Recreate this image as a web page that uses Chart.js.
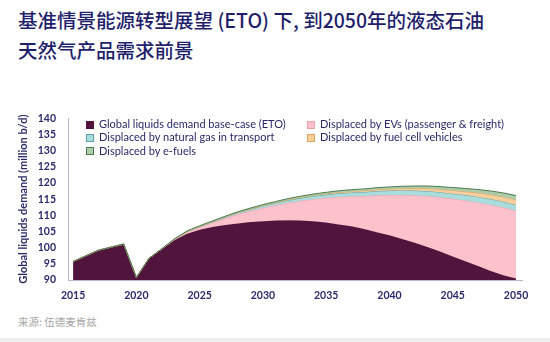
<!DOCTYPE html>
<html>
<head>
<meta charset="utf-8">
<script src="https://cdn.jsdelivr.net/npm/chart.js@4"></script>
<style>
  html, body { margin: 0; padding: 0; background: #fff; }
  body { width: 550px; height: 342px; position: relative; overflow: hidden; }
  .title {
    position: absolute; left: 18px; top: 5px;
    font-family: "Noto Sans CJK SC", sans-serif; font-weight: 500;
    font-size: 19.5px; line-height: 30px; color: #1f1f6c;
  }
  .wrap { position: absolute; left: 0; top: 100px; width: 550px; height: 212px; }
  .legend {
    position: absolute; left: 86px; top: 117px;
    display: grid; grid-template-columns: 221px auto; row-gap: 0;
    font-family: Lato, sans-serif; font-size: 11px; color: #2a2a6a;
  }
  .legend div { height: 13.3px; line-height: 13.3px; white-space: nowrap; }
  .legend span {
    display: inline-block; width: 6px; height: 6px; margin-right: 5px;
    border: 1px solid; vertical-align: -0.5px;
  }
  .source {
    position: absolute; left: 18px; top: 314px;
    font-family: "Noto Sans CJK SC", sans-serif; font-size: 10.5px; color: #a6a6a6;
  }
  .foot { position: absolute; left: 0; top: 338px; width: 550px; height: 4px; background: #eeeef0; }
</style>
</head>
<body>
<div class="title">基准情景能源转型展望 (ETO) 下, 到2050年的液态石油<br>天然气产品需求前景</div>
<div class="wrap"><canvas id="demand"></canvas></div>
<div class="legend" id="legend"></div>
<div class="source">来源: 伍德麦肯兹</div>
<div class="foot"></div>
<script>
const years = [2015, 2016, 2017, 2018, 2019, 2020, 2021, 2022, 2023, 2024, 2025, 2026,
  2027, 2028, 2029, 2030, 2031, 2032, 2033, 2034, 2035, 2036, 2037, 2038, 2039, 2040,
  2041, 2042, 2043, 2044, 2045, 2046, 2047, 2048, 2049, 2050];
const tickYears = [2015, 2020, 2025, 2030, 2035, 2040, 2045, 2050];

// million b/d
const baseCase = [95.7, 97.45, 99.2, 100.15, 101.1, 90.8, 96.7, 99.5, 102.3, 104.3, 105.5, 106.4,
  107.0, 107.5, 107.9, 108.2, 108.4, 108.5, 108.4, 108.2, 107.8, 107.2, 106.6, 105.8, 104.8, 103.8,
  102.7, 101.5, 100.2, 98.8, 97.3, 95.8, 94.3, 92.8, 91.5, 90.5];
const evs = [0, 0, 0, 0, 0, 0, 0, 0.1, 0.2, 0.5, 0.8, 1.3,
  2.0, 2.8, 3.4, 4.1, 4.7, 5.4, 6.1, 6.8, 7.6, 8.5, 9.3, 10.2, 11.4, 12.5,
  13.6, 14.7, 15.8, 16.8, 17.8, 18.8, 19.7, 20.5, 20.9, 20.9];
const naturalGas = [0, 0, 0, 0, 0, 0, 0, 0, 0.1, 0.2, 0.25, 0.3,
  0.4, 0.45, 0.55, 0.6, 0.7, 0.75, 0.85, 0.95, 1.0, 1.1, 1.15, 1.2, 1.3, 1.35,
  1.4, 1.45, 1.5, 1.55, 1.6, 1.65, 1.7, 1.75, 1.8, 1.8];
const fuelCell = [0, 0, 0, 0, 0, 0, 0, 0, 0, 0, 0.02, 0.03,
  0.04, 0.06, 0.08, 0.1, 0.12, 0.15, 0.18, 0.21, 0.25, 0.3, 0.35, 0.4, 0.45, 0.5,
  0.6, 0.7, 0.8, 0.9, 1.0, 1.1, 1.25, 1.35, 1.5, 1.6];
const eFuels = [0, 0, 0, 0, 0, 0, 0, 0.05, 0.1, 0.15, 0.2, 0.22,
  0.25, 0.27, 0.3, 0.32, 0.35, 0.38, 0.4, 0.43, 0.46, 0.5, 0.53, 0.56, 0.6, 0.63,
  0.67, 0.72, 0.77, 0.82, 0.88, 0.95, 1.03, 1.12, 1.22, 1.3];

const series = [
  { label: 'Global liquids demand base-case (ETO)', values: baseCase, fill: '#51153d', line: '#51153d' },
  { label: 'Displaced by EVs (passenger & freight)', values: evs, fill: '#fcc2cb', line: '#ee9fae' },
  { label: 'Displaced by natural gas in transport', values: naturalGas, fill: '#a9dcdc', line: '#5c9fa8' },
  { label: 'Displaced by fuel cell vehicles', values: fuelCell, fill: '#f8cf9c', line: '#d9a460' },
  { label: 'Displaced by e-fuels', values: eFuels, fill: '#aecbaa', line: '#4d7a4d' },
];

// stack by hand so the top layers can be drawn over the lower ones
const running = years.map(() => 0);
const datasets = series.map((s, i) => {
  const pts = years.map((yr, j) => {
    running[j] += s.values[j];
    return { x: yr, y: running[j] };
  });
  return {
    label: s.label,
    data: pts,
    backgroundColor: s.fill,
    borderColor: s.line,
    borderWidth: 1,
    pointRadius: 0,
    tension: 0,
    fill: i === 0 ? 'start' : '-1',
    order: series.length - i,
  };
});

const tickFont = { family: 'Lato, sans-serif', size: 10.5, weight: 'bold' };
const navy = '#2b2b6b';

new Chart(document.getElementById('demand'), {
  type: 'line',
  data: { datasets },
  options: {
    responsive: true,
    maintainAspectRatio: false,
    animation: false,
    layout: { padding: { top: 16, right: 28, left: 0, bottom: 0 } },
    plugins: { legend: { display: false }, tooltip: { enabled: false } },
    scales: {
      x: {
        type: 'linear',
        min: 2014.6,
        max: 2050.47,
        grid: { display: false, drawTicks: false },
        border: { display: true, color: '#b6b6cc', width: 1 },
        afterBuildTicks: (scale) => { scale.ticks = tickYears.map(v => ({ value: v })); },
        afterFit: (scale) => { scale.height = 32; },
        ticks: {
          padding: 9, color: navy, font: tickFont, maxRotation: 0,
          callback: (v) => String(v),
        },
      },
      y: {
        min: 90,
        max: 140,
        grid: { display: false, drawTicks: false },
        border: { display: true, color: '#b6b6cc', width: 1 },
        afterFit: (scale) => { scale.width = 68; },
        ticks: { stepSize: 5, padding: 12, color: navy, font: tickFont, callback: (v) => String(v) },
        title: {
          display: true,
          text: 'Global liquids demand (million b/d)',
          color: navy,
          font: { family: 'Lato, sans-serif', size: 11, weight: 'bold' },
          padding: { top: 17, bottom: 0 },
        },
      },
    },
  },
});

// two-column legend laid over the plot
const legend = document.getElementById('legend');
series.forEach((s) => {
  const item = document.createElement('div');
  const box = document.createElement('span');
  box.style.background = s.fill;
  box.style.borderColor = s.line;
  item.appendChild(box);
  item.appendChild(document.createTextNode(s.label));
  legend.appendChild(item);
});
</script>
</body>
</html>
